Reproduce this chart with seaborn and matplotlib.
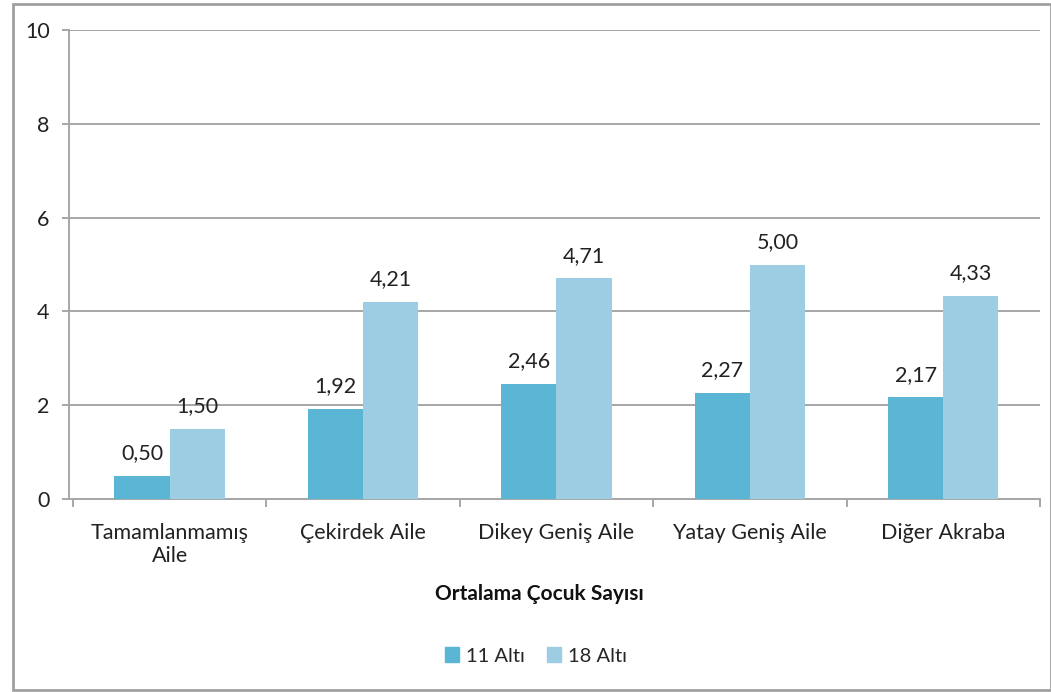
import matplotlib
matplotlib.use("Agg")
import matplotlib.pyplot as plt
import seaborn as sns
import pandas as pd
from matplotlib.patches import Rectangle

categories = ["Tamamlanmamış\nAile", "Çekirdek Aile", "Dikey Geniş Aile", "Yatay Geniş Aile", "Diğer Akraba"]
series_names = ["11 Altı", "18 Altı"]
values_11 = [0.50, 1.92, 2.46, 2.27, 2.17]
values_18 = [1.50, 4.21, 4.71, 5.00, 4.33]
colors = ["#5BB5D5", "#9CCDE3"]
y_ticks = [0, 2, 4, 6, 8, 10]
x_title = "Ortalama Çocuk Sayısı"

df = pd.DataFrame({
    "Kategori": categories * 2,
    "Seri": [series_names[0]] * len(categories) + [series_names[1]] * len(categories),
    "Değer": values_11 + values_18,
})

sns.set_theme(style="white")
plt.rcParams["font.family"] = ["Lato", "DejaVu Sans"]

FS = 15.5

fig = plt.figure(figsize=(10.51, 6.92), dpi=100)
ax = fig.add_axes([69 / 1051, 1 - 499 / 692, (1040 - 69) / 1051, (499 - 30) / 692])

sns.barplot(data=df, x="Kategori", y="Değer", hue="Seri", palette=colors,
            order=categories, hue_order=series_names, width=0.57,
            saturation=1, ax=ax, legend=False, errorbar=None, zorder=3,
            edgecolor="none", linewidth=0)

ax.set_ylim(0, 10)
ax.set_xlim(-0.52, 4.5)
ax.set_yticks(y_ticks)
ax.set_yticklabels([str(t) for t in y_ticks], fontsize=FS, color="#222222")
ax.yaxis.grid(True, color="#A6A6A6", linewidth=1.4, zorder=0)
ax.set_axisbelow(True)

for s in ["top", "right"]:
    ax.spines[s].set_visible(False)
for s in ["left", "bottom"]:
    ax.spines[s].set_color("#A6A6A6")
    ax.spines[s].set_linewidth(1.4)

ax.tick_params(axis="y", which="major", length=5, width=1.4, color="#A6A6A6", pad=9, left=True)
ax.tick_params(axis="x", which="major", length=0, pad=17, labelsize=FS, labelcolor="#222222")
ax.set_xticks([i - 0.5 for i in range(len(categories) + 1)], minor=True)
ax.tick_params(axis="x", which="minor", length=6, width=1.4, color="#A6A6A6", bottom=True)
for lbl in ax.get_xticklabels():
    lbl.set_linespacing(1.2)

ax.set_ylabel("")
ax.set_xlabel(x_title, fontsize=15, fontweight="bold", color="#111111")
ax.xaxis.set_label_coords((539 - 69) / 971, -(584 - 499) / 469)
ax.xaxis.label.set_va("top")

for cont in ax.containers:
    ax.bar_label(cont, fmt=lambda v: f"{v:.2f}".replace(".", ","), padding=9,
                 fontsize=FS, color="#222222")

handles = [Rectangle((0, 0), 1, 1, color=c) for c in colors]
fig.legend(handles, series_names, loc="center", bbox_to_anchor=(536 / 1051, 1 - 656 / 692),
           ncol=2, frameon=False, fontsize=14.5, handlelength=0.7, handleheight=0.7,
           handletextpad=0.35, columnspacing=1.1)

border = Rectangle((13 / 1051, 1 - 690 / 692), (1051 - 13) / 1051, (690 - 4) / 692,
                   transform=fig.transFigure, fill=False, edgecolor="#A0A0A0", linewidth=2)
fig.patches.append(border)

fig.savefig("out.png", dpi=100)
